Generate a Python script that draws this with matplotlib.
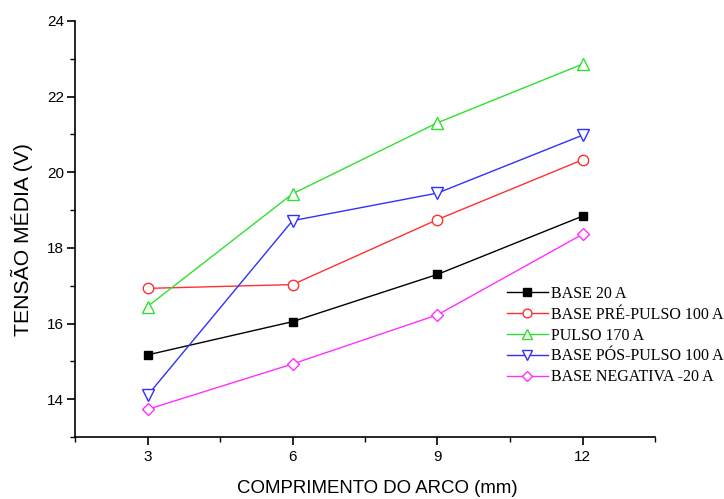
import matplotlib
matplotlib.use("Agg")
import matplotlib.pyplot as plt
from matplotlib.ticker import MultipleLocator

arc_length = [3, 6, 9, 12]
base_20 = [15.17, 16.05, 17.30, 18.84]
base_pre = [16.93, 17.03, 18.75, 20.33]
pulso = [16.45, 19.43, 21.31, 22.86]
base_pos = [14.10, 18.72, 19.45, 20.98]
base_neg = [13.73, 14.93, 16.23, 18.36]

labels = ["BASE 20 A", "BASE PRÉ-PULSO 100 A", "PULSO 170 A",
          "BASE PÓS-PULSO 100 A", "BASE NEGATIVA -20 A"]
series = [base_20, base_pre, pulso, base_pos, base_neg]
colors = ["#000000", "#ff3030", "#30e030", "#3030ff", "#ff30ff"]
markers = ["s", "o", "^", "v", "D"]
msizes = [6, 7.5, 8, 8, 6.5]

fig = plt.figure(figsize=(7.24, 4.99), dpi=100)
ax = fig.add_axes([75/724, 1-437/499, (655-75)/724, (437-21)/499])

for ys, lab, c, m, ms in zip(series, labels, colors, markers, msizes):
    filled = (m == "s")
    ax.plot(arc_length, ys, color=c, lw=1.0, marker=m, markersize=ms,
            markerfacecolor=c if filled else "white",
            markeredgecolor=c, markeredgewidth=1.0, label=lab)

ax.set_xlim(1.5, 13.5)
ax.set_ylim(13, 24)
ax.xaxis.set_major_locator(MultipleLocator(3))
ax.xaxis.set_minor_locator(MultipleLocator(1.5))
ax.yaxis.set_major_locator(MultipleLocator(2))
ax.yaxis.set_minor_locator(MultipleLocator(1))
for s in ["top", "right"]:
    ax.spines[s].set_visible(False)
for s in ["left", "bottom"]:
    ax.spines[s].set_linewidth(1.2)
ax.tick_params(which="major", direction="out", length=5.5, width=1.2,
               labelsize=11)
ax.tick_params(axis="x", which="major", pad=4)
ax.tick_params(axis="y", which="major", pad=2.5)
ax.tick_params(which="minor", direction="out", length=3.5, width=1.0)
for t in ax.get_xticklabels() + ax.get_yticklabels():
    t.set_family("Liberation Sans")

ax.set_xlabel("COMPRIMENTO DO ARCO (mm)", fontsize=13.4,
              family="Liberation Sans")
ax.set_ylabel("TENSÃO MÉDIA (V)", fontsize=15.2,
              family="Liberation Sans")
ax.xaxis.set_label_coords((377-75)/580, -(480-437)/416)
ax.yaxis.set_label_coords(-(75-33)/580, (437-240)/416)

leg = ax.legend(loc="upper left", bbox_to_anchor=(507/724, 1-286/499),
                bbox_transform=fig.transFigure, frameon=False,
                prop={"family": "Liberation Serif", "size": 11.5},
                handlelength=2.55, handletextpad=0.23, labelspacing=0.3,
                borderaxespad=0, borderpad=0, markerscale=0.85)

fig.savefig("out.png", dpi=100)
